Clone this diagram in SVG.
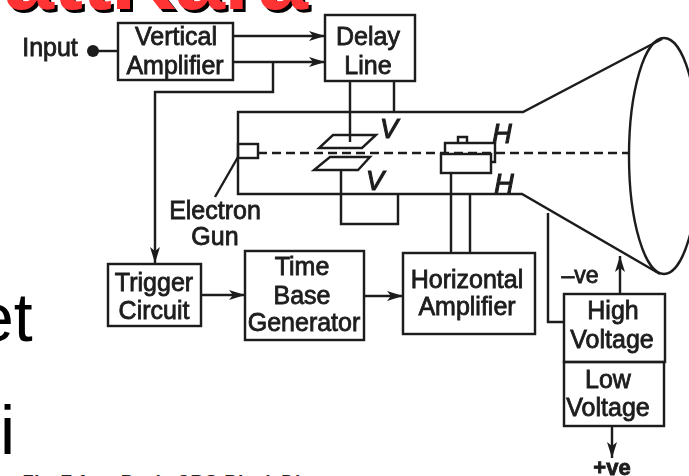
<svg xmlns="http://www.w3.org/2000/svg" width="689" height="476" viewBox="0 0 689 476">
<style>
.l{fill:none;stroke:#1c1c1c;stroke-width:2.4}
.t{font-family:"Liberation Sans",Arial,sans-serif;font-size:25px;fill:#1c1c1c;text-anchor:middle;stroke:#1c1c1c;stroke-width:.8}
.i{font-family:"Liberation Sans",Arial,sans-serif;font-size:27px;font-style:italic;fill:#1c1c1c;text-anchor:middle;stroke:#1c1c1c;stroke-width:1.1}
.big{font-family:"Liberation Sans",Arial,sans-serif;font-size:68px;fill:#000}
.h{font-family:"Liberation Sans",Arial,sans-serif;font-size:90px;font-weight:bold;letter-spacing:-1px}
</style>
<defs>
<marker id="a" markerUnits="userSpaceOnUse" markerWidth="18" markerHeight="12" refX="16" refY="6" orient="auto"><path d="M0 1 L16 6 L0 11 L4 6Z" fill="#1c1c1c"/></marker>
<filter id="b" x="-5%" y="-5%" width="110%" height="110%"><feGaussianBlur stdDeviation="0.45"/></filter>
</defs>
<rect width="689" height="476" fill="#fff"/>
<g id="background-text">
<text class="h" x="4" y="9" fill="#000" transform="translate(3 3)">attKara</text>
<text class="h" x="4" y="9" fill="#ff3333">attKara</text>
<text class="big" x="-24" y="341">et</text>
<text class="big" x="0" y="454">i</text>
<text x="21" y="488" font-family="Liberation Sans,Arial,sans-serif" font-size="19" font-style="italic" font-weight="bold" fill="#222">Fig. 7.1 a : Basic CRO Block Diagram</text>
</g>
<g filter="url(#b)">
<g id="connectors">
<circle cx="93" cy="51" r="6" fill="#1c1c1c"/>
<path class="l" d="M93 51H118"/>
<path class="l" d="M233 36H325" marker-end="url(#a)"/>
<path class="l" d="M233 62H325" marker-end="url(#a)"/>
<path class="l" d="M273 62V92H155V263" marker-end="url(#a)"/>
<path class="l" d="M201 295H245" marker-end="url(#a)"/>
<path class="l" d="M364 296H403" marker-end="url(#a)"/>
<path class="l" d="M350 81V142"/>
<path class="l" d="M394 81V112"/>
<path class="l" d="M341 170V224H398V195"/>
<path class="l" d="M451 173V253"/>
<path class="l" d="M470 195V253"/>
<path class="l" d="M564 322H548V213"/>
<path class="l" d="M620 293V256" marker-end="url(#a)"/>
<path class="l" d="M612 426V458" marker-end="url(#a)"/>
<path class="l" d="M215 197L238 157"/>
<path class="l" d="M258 153H629" stroke-dasharray="9 5"/>
</g>
<g id="crt-tube">
<path class="l" d="M662 39L523 112H238V194H522L660 274"/>
<ellipse class="l" cx="664" cy="156" rx="35" ry="118"/>
<rect class="l" x="238" y="144" width="20" height="14"/>
<path class="l" d="M333 135H376L362 148H319Z"/>
<path class="l" d="M330 157H370L358 170H314Z"/>
<path class="l" d="M458 143V137H467V143"/>
<path class="l" d="M445 153V143H495V162H491"/>
<rect class="l" x="441" y="154" width="50" height="19"/>
<text class="i" x="389" y="138">V</text>
<text class="i" x="375" y="190">V</text>
<text class="i" x="502" y="143">H</text>
<text class="i" x="504" y="193">H</text>
<text class="t" x="215" y="219">Electron</text>
<text class="t" x="215" y="245">Gun</text>
<text class="t" x="50" y="56">Input</text>
</g>
<g id="vertical-amplifier">
<rect class="l" x="118" y="23" width="115" height="57"/>
<text class="t" x="176" y="45">Vertical</text><text class="t" x="175" y="74">Amplifier</text>
</g>
<g id="delay-line">
<rect class="l" x="325" y="15" width="90" height="66"/>
<text class="t" x="368" y="45">Delay</text><text class="t" x="368" y="74">Line</text>
</g>
<g id="trigger-circuit">
<rect class="l" x="108" y="264" width="93" height="62"/>
<text class="t" x="154" y="291">Trigger</text><text class="t" x="154" y="319">Circuit</text>
</g>
<g id="time-base-generator">
<rect class="l" x="245" y="251" width="119" height="89"/>
<text class="t" x="302" y="275">Time</text><text class="t" x="302" y="304">Base</text><text class="t" x="304" y="331">Generator</text>
</g>
<g id="horizontal-amplifier">
<rect class="l" x="403" y="253" width="132" height="81"/>
<text class="t" x="467" y="288">Horizontal</text><text class="t" x="467" y="315">Amplifier</text>
</g>
<g id="high-voltage">
<rect class="l" x="564" y="294" width="101" height="68"/>
<text class="t" x="613" y="319">High</text><text class="t" x="612" y="348">Voltage</text>
</g>
<g id="low-voltage">
<rect class="l" x="564" y="362" width="100" height="64"/>
<text class="t" x="608" y="388">Low</text><text class="t" x="608" y="416">Voltage</text>
</g>
<text class="t" x="580" y="283" style="font-size:23px">–ve</text>
<text class="t" x="612" y="475" style="font-weight:bold;font-size:22px">+ve</text>
</g>
</svg>
